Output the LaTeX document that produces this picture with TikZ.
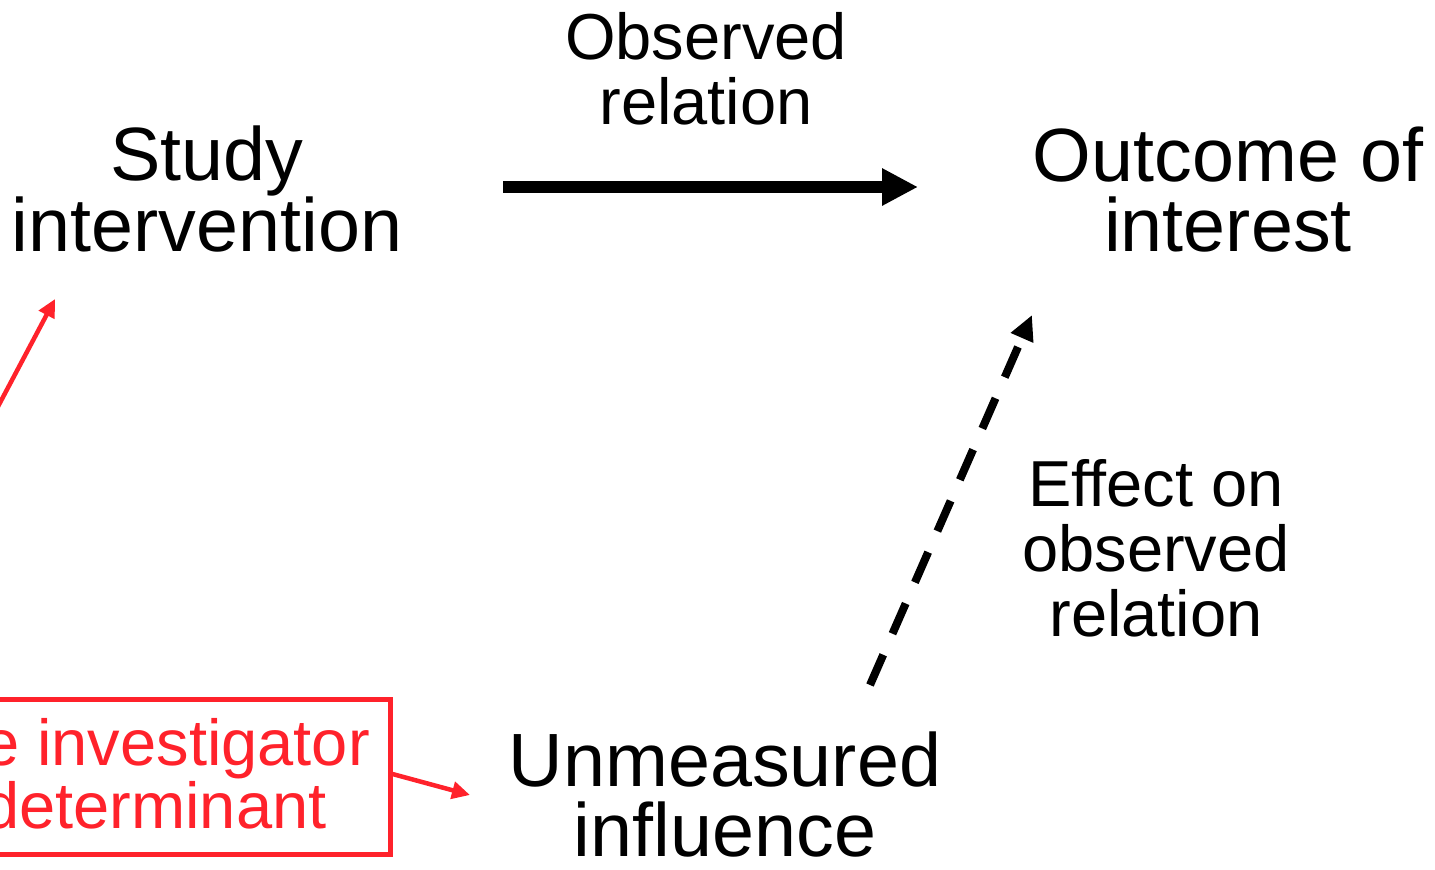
\documentclass[tikz,border=0pt]{standalone}
\usepackage{fontspec}
\setmainfont{Liberation Sans}
\usetikzlibrary{arrows.meta}
\definecolor{alertred}{RGB}{255,34,43}
\begin{document}
\begin{tikzpicture}[x=1pt,y=-1pt,
  bigtext/.style={inner sep=0pt, align=center, font=\fontsize{75.5}{70}\selectfont},
  smalltext/.style={inner sep=0pt, align=center, font=\fontsize{65}{65}\selectfont},
  redtext/.style={inner sep=0pt, align=left, text=alertred, font=\fontsize{65}{63}\selectfont},
  redbox/.style={draw=alertred, line width=5pt, inner sep=0pt, minimum width=720pt, minimum height=155pt},
  mainarrow/.style={line width=12pt, -{Triangle[length=36pt, width=35pt]}},
  dasharrow/.style={line width=8pt, dash pattern=on 33pt off 23pt, -{Triangle[length=25pt, width=23pt]}},
  redarrow/.style={draw=alertred, line width=4.5pt, -{Triangle[length=18pt, width=17pt]}, alertred}]
\useasboundingbox (0,0) rectangle (1435,870);
\clip (0,0) rectangle (1435,870);

% main variables
\node[bigtext] (study) at (207,189) {Study\\intervention};
\node[bigtext] (outcome) at (1228,190) {Outcome of\\interest};
\node[bigtext] (unm) at (725,795) {Unmeasured\\influence};

% edge labels
\node[smalltext] (obslab) at (706,69) {Observed\\relation};
\node[smalltext] (efflab) at (1156,548) {Effect on\\observed\\relation};

% determinant box
\node[redbox] (invbox) at (30,777) {};
\node[redtext, anchor=north west] (invtext) at (-17,718) {e investigator\\determinant};
\coordinate (boxtop) at ([xshift=-186pt]invbox.north);

% connectors
\draw[mainarrow] ([shift={(296,-2)}]study.center) -- ([shift={(-310,-3)}]outcome.center);
\draw[dasharrow] ([shift={(145,-110)}]unm.center) -- ([shift={(-196,125)}]outcome.center);
\draw[redarrow] (boxtop) -- ([shift={(-152,110)}]study.center);
\draw[redarrow] ([yshift=3pt]invbox.east) -- ([shift={(-255,0)}]unm.center);
\end{tikzpicture}
\end{document}
